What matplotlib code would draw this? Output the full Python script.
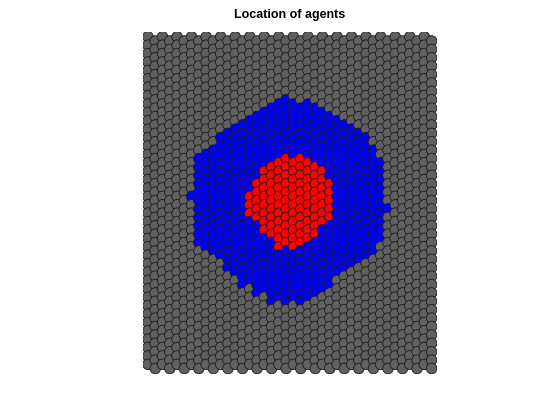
import numpy as np
import matplotlib
matplotlib.use("Agg")
import matplotlib.pyplot as plt
from matplotlib.collections import EllipseCollection

# hex lattice: 40 columns x 40 rows, even columns shifted up half a step
n_cols = 40
n_rows = 40

# per column row spans (row 0 = top)
blue_cols = list(range(6, 34))
blue_top = [19, 14, 14, 13, 12, 11, 11, 10, 10, 9, 9, 8, 8, 7, 8, 8, 8, 8, 9, 9, 10, 10, 11, 11, 12, 13, 15, 20]
blue_bot = [19, 24, 25, 25, 26, 27, 28, 29, 29, 30, 30, 31, 31, 31, 31, 31, 31, 30, 30, 29, 28, 27, 27, 26, 26, 25, 24, 20]

red_cols = list(range(14, 26))
red_top = [19, 17, 16, 15, 15, 14, 15, 14, 15, 15, 16, 17]
red_bot = [21, 21, 23, 23, 25, 24, 25, 24, 24, 23, 22, 21]

colors = {"gray": "#606060", "blue": "#0000ff", "red": "#ff0000"}

state = np.full((n_cols, n_rows), "gray", dtype=object)
for c, t, b in zip(blue_cols, blue_top, blue_bot):
    state[c, t:b + 1] = "blue"
for c, t, b in zip(red_cols, red_top, red_bot):
    state[c, t:b + 1] = "red"

cc, rr = np.meshgrid(np.arange(n_cols), np.arange(n_rows), indexing="ij")
x = cc * np.sqrt(3) / 2
y = -(rr + 0.5 * (cc % 2))
fc = [colors[s] for s in state.ravel()]

fig = plt.figure(figsize=(5.6, 4.2), dpi=100)
ax = fig.add_axes([0.13, 0.11, 0.775, 0.815])
r = 0.63
ec = EllipseCollection(np.full(x.size, 2 * r), np.full(x.size, 2 * r), np.zeros(x.size),
                       units="xy", offsets=np.column_stack([x.ravel(), y.ravel()]),
                       offset_transform=ax.transData, facecolors=fc,
                       edgecolors="#1a1a1a", linewidths=0.6)
ax.add_collection(ec)
ax.set_xlim(-r, x.max() + r)
ax.set_ylim(y.min() - r, r)
ax.set_aspect("equal")
ax.axis("off")
ax.set_title("Location of agents", fontsize=9, fontweight="bold",
             family="Liberation Sans", pad=10)
fig.savefig("out.png", dpi=100)
